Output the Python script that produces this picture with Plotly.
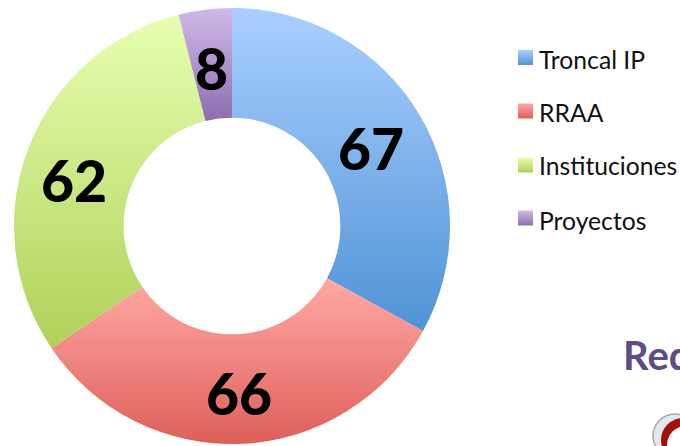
import json
import plotly.graph_objects as go

W, H = 680, 446
categories = ["Troncal IP", "RRAA", "Instituciones", "Proyectos"]
values = [67, 66, 62, 8]
colors = ["#7BAEE8", "#F2837E", "#C9E586", "#AF92CF"]
gradients = [("#AACFFF", "#4F93D6"), ("#FFA9A5", "#DE5F59"),
             ("#E6FFB0", "#AFD159"), ("#D0BAEA", "#8D6DAE")]
label_px = [(371, 148), (239, 393), (74, 180), (211, 68)]
legend_y = [59, 113, 166, 220]
swatch_y = [57.5, 111, 165, 218]

def px(x): return x / W
def py(y): return 1 - y / H

fig = go.Figure(go.Pie(
    labels=categories, values=values, sort=False, direction="clockwise", rotation=0,
    hole=0.497, textinfo="none", showlegend=False,
    marker=dict(colors=colors, line=dict(width=0)),
    domain=dict(x=[px(14), px(450)], y=[py(444), py(8)]),
))

ann, shapes = [], []
for v, (x, y) in zip(values, label_px):
    ann.append(dict(text=str(v), x=px(x), y=py(y), xref="paper", yref="paper",
                    showarrow=False, font=dict(family="Lato", size=57, weight=900, color="#000000"),
                    xanchor="center", yanchor="middle"))
for c, col, y, sy in zip(categories, colors, legend_y, swatch_y):
    shapes.append(dict(type="rect", xref="paper", yref="paper", x0=px(518), x1=px(533),
                       y0=py(sy + 7.5), y1=py(sy - 7.5), fillcolor=col, line=dict(width=0)))
    ann.append(dict(text=c, x=px(537), y=py(y), xref="paper", yref="paper", showarrow=False,
                    font=dict(family="Lato", size=24.7, color="#111111"),
                    xanchor="left", yanchor="middle"))
ann.append(dict(text="<b>Red</b>", x=px(621), y=py(355), xref="paper", yref="paper",
                showarrow=False, font=dict(family="Lato", size=40, color="#5F4B85"),
                xanchor="left", yanchor="middle"))
shapes.append(dict(type="circle", xref="paper", yref="paper", x0=px(653), x1=px(697),
                   y0=py(458), y1=py(414), fillcolor="#E4E6F0",
                   line=dict(width=1.5, color="#A8A8A8")))
shapes.append(dict(type="circle", xref="paper", yref="paper", x0=px(661), x1=px(705),
                   y0=py(462), y1=py(418), fillcolor="#A01208", line=dict(width=0)))
shapes.append(dict(type="circle", xref="paper", yref="paper", x0=px(667), x1=px(705),
                   y0=py(464), y1=py(426), fillcolor="#FFFFFF", line=dict(width=0)))

fig.update_layout(width=W, height=H, margin=dict(l=0, r=0, t=0, b=0),
                  paper_bgcolor="#FFFFFF", plot_bgcolor="#FFFFFF",
                  annotations=ann, shapes=shapes)

# Remove the page margin; apply vertical gradients to the drawn slices and legend swatches
pairs = dict(zip(colors, gradients))
js = """
document.body.style.margin = '0';
document.documentElement.style.overflow = 'hidden';
var gd = document.getElementsByClassName('plotly-graph-div')[0];
var pairs = %s;
var svg = gd.querySelector('svg.main-svg');
var NS = 'http://www.w3.org/2000/svg';
var defs = document.createElementNS(NS, 'defs');
svg.insertBefore(defs, svg.firstChild);
function hex(c){var d=document.createElement('div');d.style.color=c;document.body.appendChild(d);
  var r=getComputedStyle(d).color;d.remove();return r;}
var map = {}; var i = 0;
Object.keys(pairs).forEach(function(k){
  var id='grad'+(i++);
  var g=document.createElementNS(NS,'linearGradient');
  g.setAttribute('id',id);g.setAttribute('x1','0');g.setAttribute('y1','0');g.setAttribute('x2','0');g.setAttribute('y2','1');
  [0,1].forEach(function(j){var s=document.createElementNS(NS,'stop');
    s.setAttribute('offset',String(j));s.setAttribute('stop-color',pairs[k][j]);g.appendChild(s);});
  defs.appendChild(g);map[hex(k)]=id;
});
gd.querySelectorAll('path').forEach(function(p){
  var f=getComputedStyle(p).fill;
  if(map[f]){p.style.fill='url(#'+map[f]+')';}
});
""" % json.dumps(pairs)

fig.write_html("out.html", post_script=js, config={"displayModeBar": False})
